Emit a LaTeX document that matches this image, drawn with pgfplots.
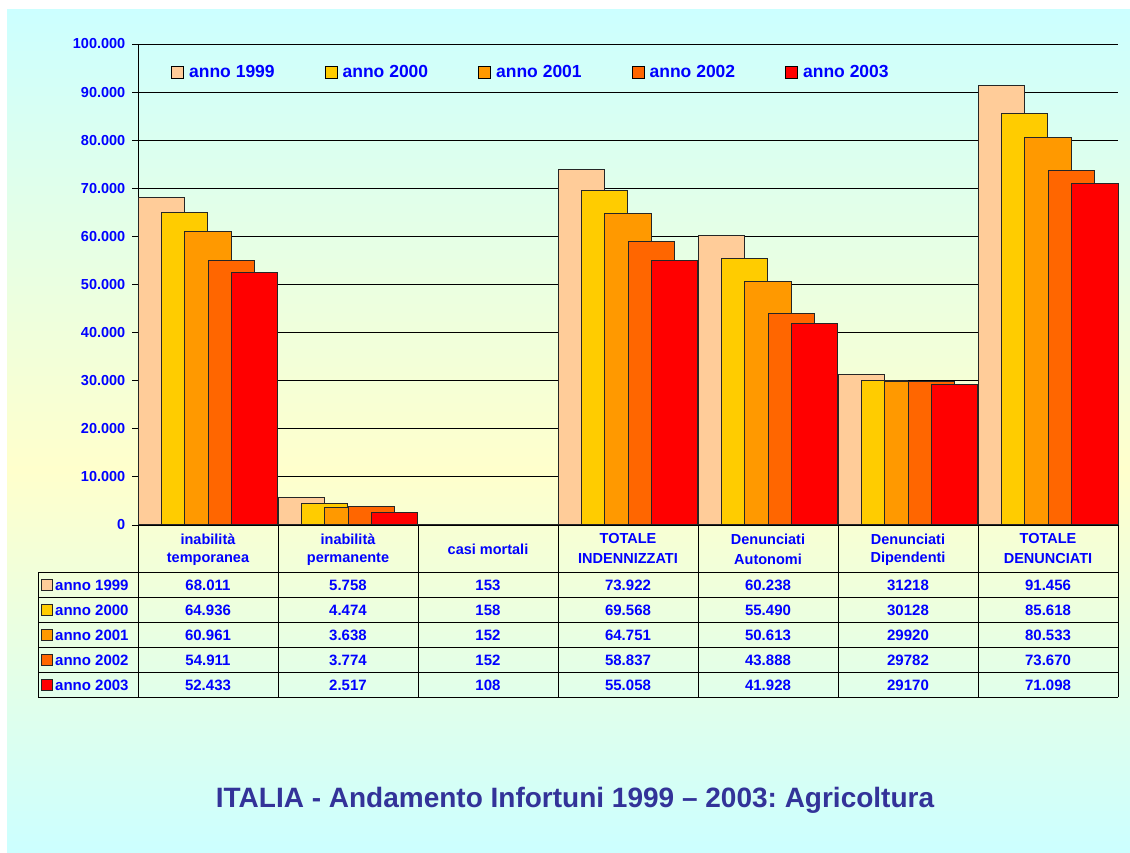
\documentclass[border=0pt]{standalone}
\usepackage{pgfplots}
\pgfplotsset{compat=1.18}
\usepackage{fontspec}
\setmainfont{Liberation Sans}
\frenchspacing
\definecolor{cA}{RGB}{255,204,153}
\definecolor{cB}{RGB}{255,204,0}
\definecolor{cC}{RGB}{255,153,0}
\definecolor{cD}{RGB}{255,102,0}
\definecolor{cE}{RGB}{255,0,0}
\definecolor{tblue}{RGB}{0,0,255}
\definecolor{ttitle}{RGB}{51,51,153}
\definecolor{bgcyan}{RGB}{204,255,255}
\definecolor{bgyellow}{RGB}{255,255,204}
\newcommand{\fs}[1]{\fontsize{#1}{#1}\selectfont\bfseries}
\begin{document}
\begin{tikzpicture}
\begin{scope}[x=1pt,y=1pt]
\fill[white] (0,0) rectangle (1130,852);
\shade[top color=bgcyan, bottom color=bgyellow] (7,852-470) rectangle (1130,842);
\shade[top color=bgyellow, bottom color=bgcyan] (7,0) rectangle (1130,852-470);
\end{scope}
\begin{axis}[
  at={(138pt,327pt)}, anchor=south west,
  scale only axis, width=980pt, height=481pt,
  xmin=-0.5, xmax=6.5, ymin=0, ymax=100000,
  ybar, bar width=0.3333,
  axis x line=bottom, axis y line=left,
  axis line style={-, black, line width=1pt},
  xtick=\empty,
  scaled y ticks=false,
  ytick={0,10000,20000,30000,40000,50000,60000,70000,80000,90000,100000},
  yticklabels={0,10.000,20.000,30.000,40.000,50.000,60.000,70.000,80.000,90.000,100.000},
  yticklabel style={font=\fs{14.5}, text=tblue, inner sep=0pt, xshift=-7pt},
  tick align=outside, major tick length=5.5pt,
  tick style={black, line width=0.8pt},
  ymajorgrids, major grid style={black, line width=0.8pt},
  clip=false,
  legend columns=5,
  legend image code/.code={\draw[#1,draw=black,line width=0.9pt] (0pt,-6pt) rectangle (12pt,6pt);},
  legend style={at={(axis description cs:0.0337,0.9418)}, anchor=west,
    draw=none, fill=none, inner sep=0pt, font=\fs{17.5}, text=tblue,
    nodes={inner sep=0pt},
    /tikz/every odd column/.append style={column sep=5pt},
    /tikz/every even column/.append style={column sep=50pt}},
]
\addplot[fill=cA, draw=black!85, line width=1pt, bar shift=-0.3333] coordinates {(0,68011) (1,5758) (2,153) (3,73922) (4,60238) (5,31218) (6,91456)};
\addplot[fill=cB, draw=black!85, line width=1pt, bar shift=-0.1667] coordinates {(0,64936) (1,4474) (2,158) (3,69568) (4,55490) (5,30128) (6,85618)};
\addplot[fill=cC, draw=black!85, line width=1pt, bar shift=0] coordinates {(0,60961) (1,3638) (2,152) (3,64751) (4,50613) (5,29920) (6,80533)};
\addplot[fill=cD, draw=black!85, line width=1pt, bar shift=0.1667] coordinates {(0,54911) (1,3774) (2,152) (3,58837) (4,43888) (5,29782) (6,73670)};
\addplot[fill=cE, draw=black!85, line width=1pt, bar shift=0.3333] coordinates {(0,52433) (1,2517) (2,108) (3,55058) (4,41928) (5,29170) (6,71098)};
\legend{anno 1999,anno 2000,anno 2001,anno 2002,anno 2003}
\end{axis}
\begin{scope}[x=1pt,y=1pt]
% table grid
\foreach \yy in {573,597.5,622.5,647.5,672.5,697} \draw[black, line width=1pt] (38,852-\yy) -- (1118,852-\yy);
\draw[black, line width=1pt] (38,852-573) -- (38,852-697);
\foreach \xx in {138,278,418,558,698,838,978,1118} \draw[black, line width=1pt] (\xx,852-525) -- (\xx,852-697);
% headers
\begin{scope}[every node/.style={font=\fs{14.5}, text=tblue, align=center, inner sep=0pt}]
\node at (208,852-539) {inabilità};
\node at (208,852-559) {temporanea};
\node at (348,852-539) {inabilità};
\node at (348,852-559) {permanente};
\node at (488,852-549) {casi mortali};
\node at (628,852-539) {TOTALE};
\node at (628,852-559) {INDENNIZZATI};
\node at (768,852-539) {Denunciati};
\node at (768,852-559) {Autonomi};
\node at (908,852-539) {Denunciati};
\node at (908,852-559) {Dipendenti};
\node at (1048,852-539) {TOTALE};
\node at (1048,852-559) {DENUNCIATI};
\end{scope}
% row labels
\foreach \yy/\cc/\lab in {585/cA/anno 1999, 610/cB/anno 2000, 635/cC/anno 2001, 660/cD/anno 2002, 685/cE/anno 2003}{
  \draw[fill=\cc, draw=black!85, line width=0.9pt] (41.5,852-\yy-5.5) rectangle (52.5,852-\yy+5.5);
  \node[font=\fs{15}, text=tblue, anchor=west, inner sep=0pt] at (55,852-\yy) {\lab};
}
% values
\begin{scope}[every node/.style={font=\fs{15}, text=tblue, inner sep=0pt}]
\foreach \yy/\a/\b/\c/\d/\e/\f/\g in {
585/68.011/5.758/153/73.922/60.238/31218/91.456,
610/64.936/4.474/158/69.568/55.490/30128/85.618,
635/60.961/3.638/152/64.751/50.613/29920/80.533,
660/54.911/3.774/152/58.837/43.888/29782/73.670,
685/52.433/2.517/108/55.058/41.928/29170/71.098}{
  \node at (208,852-\yy) {\a};
  \node at (348,852-\yy) {\b};
  \node at (488,852-\yy) {\c};
  \node at (628,852-\yy) {\d};
  \node at (768,852-\yy) {\e};
  \node at (908,852-\yy) {\f};
  \node at (1048,852-\yy) {\g};
}
\end{scope}
% title
\node[font=\fs{28}, text=ttitle, anchor=base, inner sep=0pt] at (575,852-807) {ITALIA - Andamento Infortuni 1999 – 2003: Agricoltura};
\end{scope}
\pgfresetboundingbox
\useasboundingbox (0,0) rectangle (1130pt,852pt);
\end{tikzpicture}
\end{document}
